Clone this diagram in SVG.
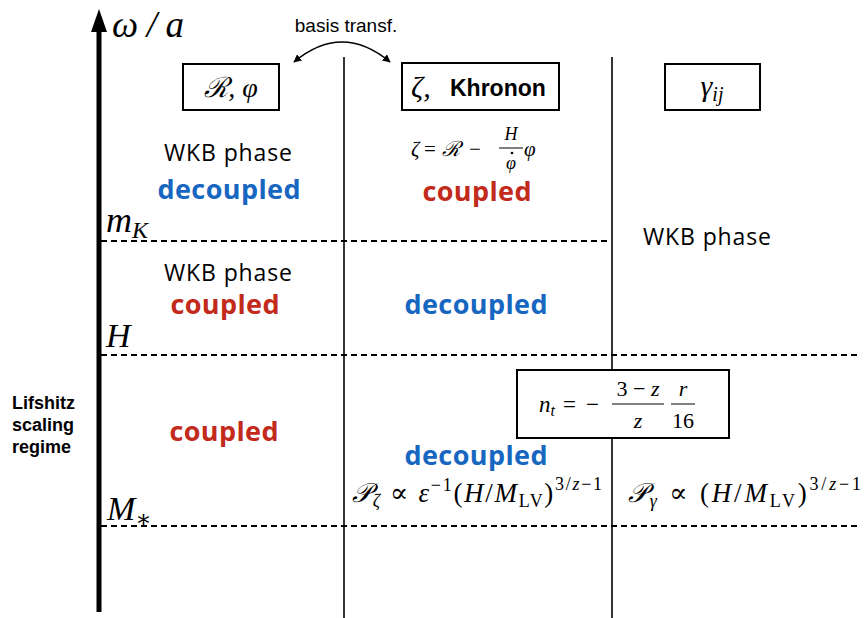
<svg xmlns="http://www.w3.org/2000/svg" width="865" height="618" viewBox="0 0 865 618">
<defs>
<marker id="ah" viewBox="0 0 10 10" refX="9" refY="5" markerWidth="8" markerHeight="8" orient="auto-start-reverse" markerUnits="userSpaceOnUse"><path d="M0,0 L10,5 L0,10 Z" fill="#000"/></marker>
</defs>
<style>
.m{font-family:"Liberation Serif","DejaVu Serif",serif;font-style:italic;fill:#000}
.r{font-family:"Liberation Serif","DejaVu Serif",serif;fill:#000;font-style:normal}
.g{font-family:"Open Sans","Lato",sans-serif;fill:#000;font-size:23px}
.bl{font-family:"Open Sans","Lato",sans-serif;font-weight:bold;fill:#1767c1;font-size:27px}
.rd{font-family:"Open Sans","Lato",sans-serif;font-weight:bold;fill:#c22a1c;font-size:27px}
.h{font-family:"Liberation Sans",Arial,sans-serif;fill:#000}
.box{fill:#fff;stroke:#000;stroke-width:2}
.dash{stroke:#000;stroke-width:2;stroke-dasharray:6 4;fill:none}
.vl{stroke:#000;stroke-width:1.6}
</style>
<g id="connectors">
<line class="vl" x1="344" y1="57" x2="344" y2="618"/>
<line class="vl" x1="612" y1="57" x2="612" y2="618"/>
<line class="dash" x1="101" y1="241" x2="610" y2="241"/>
<line class="dash" x1="101" y1="355" x2="860" y2="355"/>
<line class="dash" x1="101" y1="526" x2="860" y2="526"/>
<line x1="99" y1="612" x2="99" y2="28" stroke="#000" stroke-width="5"/>
<polygon points="99,9 91,32 107,32" fill="#000"/>
<path d="M294,62 Q342,22 390,62" fill="none" stroke="#000" stroke-width="1.6" marker-start="url(#ah)" marker-end="url(#ah)"/>
</g>
<g id="axis-label"><text class="m" x="112" y="37" font-size="37" textLength="72">ω/a</text></g>
<g id="basis"><text class="h" x="346" y="32" font-size="19" text-anchor="middle">basis transf.</text></g>
<g id="box-R">
<rect class="box" x="183" y="64" width="96" height="46"/>
<text class="m" x="231" y="97" font-size="28" text-anchor="middle">ℛ, φ</text>
</g>
<g id="box-zeta">
<rect class="box" x="402" y="63" width="157" height="47"/>
<text x="411" y="97" font-size="30" class="m">ζ,</text>
<text class="h" x="450" y="96" font-size="23" font-weight="bold">Khronon</text>
</g>
<g id="box-gamma">
<rect class="box" x="665" y="64" width="95" height="46"/>
<text class="m" x="712" y="96" font-size="30" text-anchor="middle">γ<tspan font-size="20" dy="5">ij</tspan></text>
</g>
<g id="col1">
<text class="g" x="228" y="161" text-anchor="middle" textLength="128">WKB phase</text>
<text class="bl" x="229" y="199" text-anchor="middle" textLength="143">decoupled</text>
<text class="g" x="228" y="281" text-anchor="middle" textLength="128">WKB phase</text>
<text class="rd" x="225" y="314" text-anchor="middle" textLength="109">coupled</text>
<text class="rd" x="224" y="441" text-anchor="middle" textLength="109">coupled</text>
</g>
<g id="col2">
<text class="m" x="411" y="156" font-size="21">ζ</text>
<text class="r" x="424" y="156" font-size="21">=</text>
<text class="m" x="442" y="156" font-size="21">ℛ</text>
<text class="r" x="469" y="156" font-size="21">−</text>
<text class="m" x="511" y="140" font-size="18" text-anchor="middle">H</text>
<line x1="499" y1="148" x2="523" y2="148" stroke="#000" stroke-width="1"/>
<text class="m" x="511" y="169" font-size="18" text-anchor="middle">φ</text>
<circle cx="512" cy="153" r="1.3" fill="#000"/>
<text class="m" x="524" y="156" font-size="21">φ</text>
<text class="rd" x="477" y="201" text-anchor="middle" textLength="109">coupled</text>
<text class="bl" x="476" y="314" text-anchor="middle" textLength="143">decoupled</text>
<text class="bl" x="476" y="465" text-anchor="middle" textLength="143">decoupled</text>
<text x="352" y="502" font-size="27" textLength="250"><tspan class="m">𝒫</tspan><tspan class="m" font-size="18" dy="5">ζ</tspan><tspan class="r" dy="-5"> ∝ </tspan><tspan class="m">ε</tspan><tspan class="r" font-size="18" dy="-11">−1</tspan><tspan class="r" dy="11">(</tspan><tspan class="m">H</tspan><tspan class="r">/</tspan><tspan class="m">M</tspan><tspan class="r" font-size="18" dy="5">LV</tspan><tspan class="r" dy="-5">)</tspan><tspan class="r" font-size="18" dy="-12">3/</tspan><tspan class="m" font-size="18">z</tspan><tspan class="r" font-size="18">−1</tspan></text>
</g>
<g id="col3">
<text class="g" x="707" y="245" text-anchor="middle" textLength="128">WKB phase</text>
<text x="628" y="502" font-size="27" textLength="233"><tspan class="m">𝒫</tspan><tspan class="m" font-size="18" dy="5">γ</tspan><tspan class="r" dy="-5"> ∝ (</tspan><tspan class="m">H</tspan><tspan class="r">/</tspan><tspan class="m">M</tspan><tspan class="r" font-size="18" dy="5">LV</tspan><tspan class="r" dy="-5">)</tspan><tspan class="r" font-size="18" dy="-12">3/</tspan><tspan class="m" font-size="18">z</tspan><tspan class="r" font-size="18">−1</tspan></text>
</g>
<g id="box-nt">
<rect class="box" x="517" y="370" width="212" height="68"/>
<text class="m" x="539" y="412" font-size="23">n<tspan font-size="16" dy="4">t</tspan></text>
<text class="r" x="563" y="412" font-size="23">=</text>
<text class="r" x="586" y="412" font-size="23">−</text>
<text class="r" x="638" y="396" font-size="22" text-anchor="middle">3 − <tspan class="m">z</tspan></text>
<line x1="612" y1="404" x2="664" y2="404" stroke="#000" stroke-width="1"/>
<text class="m" x="638" y="428" font-size="22" text-anchor="middle">z</text>
<text class="m" x="683" y="396" font-size="22" text-anchor="middle">r</text>
<line x1="671" y1="404" x2="695" y2="404" stroke="#000" stroke-width="1"/>
<text class="r" x="683" y="428" font-size="22" text-anchor="middle">16</text>
</g>
<g id="scales">
<text class="m" x="106" y="232" font-size="36">m<tspan font-size="24" dy="6">K</tspan></text>
<text class="m" x="106" y="347" font-size="34">H</text>
<text class="m" x="107" y="520" font-size="34">M<tspan font-size="24" dy="7">∗</tspan></text>
</g>
<g id="lifshitz">
<text class="h" font-size="18" font-weight="bold" x="12" y="409">Lifshitz</text>
<text class="h" font-size="18" font-weight="bold" x="12" y="431">scaling</text>
<text class="h" font-size="18" font-weight="bold" x="12" y="453">regime</text>
</g>
</svg>
